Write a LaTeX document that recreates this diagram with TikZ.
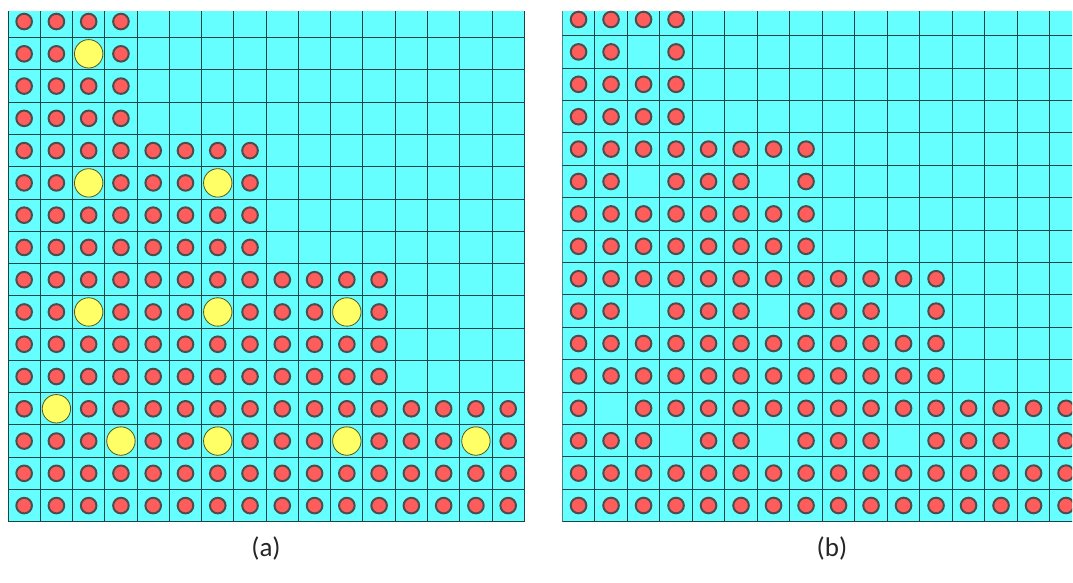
\documentclass[tikz,border=0pt]{standalone}
\usepackage{fontspec}
\setmainfont{Carlito}
\usepackage{xcolor}
\usepackage{tikz}
\definecolor{water}{HTML}{66FFFF}
\definecolor{gridln}{HTML}{1C4444}
\definecolor{fuel}{HTML}{FF5C5C}
\definecolor{clad}{HTML}{4D4D4D}
\definecolor{guide}{HTML}{FFFF66}
\definecolor{guideln}{HTML}{55551C}

\tikzset{
  cellgrid/.style={draw=gridln,line width=1pt},
  pin/.style={fill=fuel,draw=clad,line width=2pt},
  tube/.style={fill=guide,draw=guideln,line width=0.8pt},
  caption/.style={font=\fontsize{27}{32}\selectfont,text=black!85},
}

% guide tube positions, column/row counted from the top left cell
\newcommand\tubelist{2/1,2/5,6/5,2/9,6/9,10/9,1/12,3/13,6/13,10/13,14/13}
\foreach \c/\r in \tubelist {\expandafter\xdef\csname tubepos\c-\r\endcsname{1}}

% #1 = top edge (cut), #2 = 1 to draw the guide tubes
\newcommand\assembly[2]{%
  \fill[water] (0,#1) rectangle (16,16);
  \foreach \k in {0,...,16} \draw[cellgrid] (\k,#1) -- (\k,16);
  \foreach \k in {1,...,16} \draw[cellgrid] (0,\k) -- (16,\k);
  \foreach \r in {0,...,15}{
    \pgfmathtruncatemacro\lastc{4*int(\r/4)+3}
    \foreach \c in {0,...,\lastc}{
      \ifcsname tubepos\c-\r\endcsname\else
        \draw[pin] (\c+.5,\r+.5) circle[radius=7.8pt];
      \fi}}
  \ifnum#2=1
    \foreach \c/\r in \tubelist \draw[tube] (\c+.5,\r+.5) circle[radius=14.2pt];
  \fi}

\begin{document}
\begin{tikzpicture}[x=1pt,y=-1pt]
  \useasboundingbox[fill=white] (0,0) rectangle (1073,582);

  % (a) with guide tubes
  \begin{scope}[shift={(8,5.4)},x=32.27pt,y=-32.27pt]
    \assembly{0.174}{1}
  \end{scope}

  % (b) empty positions
  \begin{scope}[shift={(562.3,3.3)},x=32.5pt,y=-32.4pt]
    \clip (0,0) rectangle (15.69,16.2);
    \assembly{0.238}{0}
  \end{scope}

  \node[caption] (capa) at (266,548) {(a)};
  \node[caption] (capb) at (832,548) {(b)};
\end{tikzpicture}
\end{document}
